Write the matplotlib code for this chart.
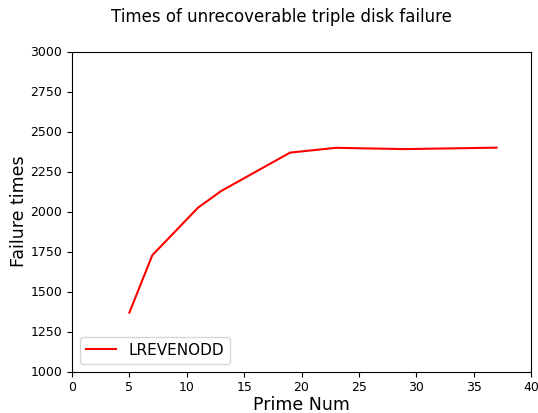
import matplotlib
matplotlib.use('Agg')
import matplotlib.pyplot as plt

# простые числа и число отказов
primes = [5, 7, 11, 13, 19, 23, 29, 37]
failures = [1368, 1727, 2025, 2128, 2368, 2398, 2390, 2399]

fig = plt.figure(figsize=(5.38, 4.13), dpi=100)
ax = fig.add_axes([72 / 538, 1 - 371.5 / 413, (531 - 72) / 538, (371.5 - 51.5) / 413])

ax.plot(primes, failures, color='red', label='LREVENODD')
ax.set_xlim(0, 40)
ax.set_ylim(1000, 3000)
ax.tick_params(labelsize=9)

fig.text(281 / 538, 1 - 17 / 413, 'Times of unrecoverable triple disk failure',
         fontsize=12, ha='center', va='center')
ax.set_xlabel('Prime Num', fontsize=12.5, labelpad=1)
ax.set_ylabel('Failure times', fontsize=12.5, labelpad=2)
ax.legend(loc='lower left', fontsize=11)

fig.savefig('out.png', dpi=100)
